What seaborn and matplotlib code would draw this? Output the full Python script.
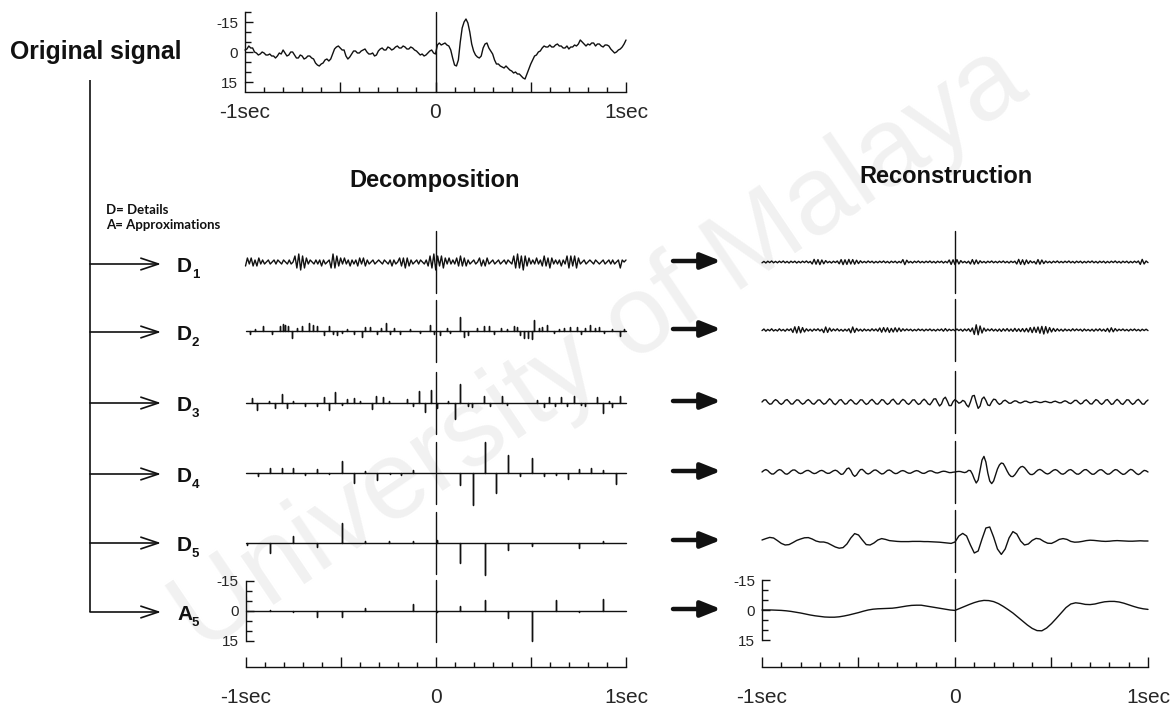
import numpy as np
import matplotlib
matplotlib.use("Agg")
import matplotlib.pyplot as plt
import seaborn as sns
from matplotlib.ticker import FixedLocator

sns.set_style("white")
plt.rcParams["font.family"] = ["Liberation Sans", "DejaVu Sans"]

# ---------------- data (amplitude units, positive = downward, EEG convention) -------------
orig_vals = [-1, -1.5, -3, -2, -2, 0, 0.5, 1.5, 1, 0, 0.5, 1.5, 1.5, 1, 2, 2, 3, 2, 0.5, 1,
             -1, 0.5, 2, 1.5, 0, 0, 1.5, 3, 3, 1.5, 2, 3.5, 3, 2, 2, 3, 3.5, 5.5, 6.5, 7,
             6, 5.5, 4, 3.5, 4.5, 3.5, 1, -1.5, -2.5, -3, -2, -1, -1, 2, 3.5, 2.5, 1, -0.5, -0.5, 0.5,
             0.5, -0.5, -1, -1.5, 0, 1, 1, 0.5, 2, 1.5, -0.5, -1.5, -2, -1, -1, -2.5, -2, -1, -1.5, -2.5,
             -3, -2, -2, -3, -2.5, -1.5, -1.5, -2.5, -2, -1, -0.5, 0.5, 1.5, 1, 2, 1.5, 0.5, -0.5, -1, 0.5,
             1, -3.5, -4.5, -3.5, -4, -4.5, -3.5, -3, -1, 3, 6.5, 7, 4, -5, -12, -15, -16.5, -14.5, -10, -4,
             -0.5, 1.5, 2.5, 3, 2, -2, -4, -4.5, -2, -0.5, 1, 4, 6, 6, 7, 7.5, 8, 7, 8, 9,
             9.5, 10.5, 10, 11, 11, 12, 13, 13.5, 11, 8.5, 6, 4, 2, 1.5, 0, -0.5, -2, -3, -2.5, -2.5,
             -3.5, -2.5, -2.5, -3.5, -4, -3, -3, -2, -2, -3, -1.5, -2.5, -2.5, -3.5, -3, -4, -6, -5, -4, -3,
             -4, -3.5, -4.5, -4.5, -3, -4, -4, -3, -2.5, -3.5, -3.5, -3, -1.5, -0.5, 0.5, 0, -1, -1.5, -2.5, -4,
             -6]

dec_d1 = [2, -2, 1, -2, 2, -1, 2, -2, 1, -1, 1,
          0, -1, 1, 0, -1, 1, -1, 0, 1, -1, 0, 1, -1, 1, 0,
          -3, 3, -4, 4, -3, 3, -2,
          1, -1, 0, 1, -1, 1, -1, 2, -1, 1, 0, -1,
          3, -4, 3, -3, 2, -2,
          1, -2, 1, -1, 2, -1, 1, -1,
          2, -2, 1, -2, 2, -1, 1,
          0, -1, 1, 0, -1, 0, 1, -1, 0, 1,
          -1, 2, -1, 1, 0,
          -2, 2, -2, 3, -2, 2, -1, 1,
          0, -1, 1, -1, 0, 1, -1,
          2, -3, 3, -4, 4, -3, 2, -3, 3, -2,
          1, -2, 1, -1, 1,
          -2, 2, -3, 2, -2, 2, -1, 1,
          0, -1, 1, 0,
          -2, 2, -1, 2, -2, 1,
          0, -1, 1, 0, -1, 1, 0, -1, 1, -1, 0, 1,
          -3, 3, -4, 3, -3, 4, -3, 2, -2, 1,
          -1, 1, -2, 1, -1,
          2, -3, 2, -2, 3, -2, 1,
          -1, 1, -1, 2, -1, 1,
          -3, 3, -3, 2, -3, 3, -2, 1,
          0, -1, 1, 0, -1, 0, 1, -1, 0, 1, 0, -1, 1, 0,
          -1, 1, -1, 1, 0, -1,
          3,
          -1, 0, -1]

d2_t = [-0.976, -0.950, -0.906, -0.862, -0.818, -0.804, -0.792, -0.775, -0.757, -0.731,
        -0.704, -0.664, -0.643, -0.622, -0.590, -0.559, -0.538, -0.520, -0.494, -0.468,
        -0.429, -0.389, -0.371, -0.345, -0.310, -0.289, -0.264, -0.243, -0.222, -0.187,
        -0.134, -0.085, -0.029, -0.011, 0.020, 0.059, 0.076, 0.129, 0.146, 0.167,
        0.217, 0.255, 0.278, 0.304, 0.343, 0.375, 0.410, 0.427, 0.445, 0.462,
        0.485, 0.506, 0.518, 0.541, 0.559, 0.585, 0.620, 0.647, 0.673, 0.708,
        0.743, 0.761, 0.787, 0.813, 0.839, 0.857, 0.883, 0.927, 0.971, 0.989]
d2_a = [1.5, -1, -2.5, 1.5, -2.5, -3.5, -3, -2.5, 3.5, -1.5,
        -2.5, -4, -3, -2.5, 2, -2.5, 1.5, 2, 1, -1,
        1.5, 3, -2, -2, 1.5, -1.5, -4, 1.5, -1.5, 1.5,
        -1, 1, -3, 1.5, 2, -1.5, 1, -7, 3, 2,
        -1.5, -2.5, -2.5, 1.5, -1.5, -1, -2.5, -2, 2, 3.5,
        3.5, 4, -5.5, -1.5, -2, -3, 1, -1, -1.5, -2,
        -2, 1.5, -1.5, -3, -1.5, -2, 1, -1, 2.5, -1]

d3_t = [-0.968, -0.938, -0.875, -0.845, -0.810, -0.780, -0.748, -0.687, -0.622, -0.590,
        -0.559, -0.527, -0.494, -0.464, -0.432, -0.397, -0.336, -0.313, -0.278, -0.248,
        -0.152, -0.122, -0.087, -0.059, -0.025, 0.006, 0.062, 0.099, 0.129, 0.167,
        0.190, 0.255, 0.287, 0.348, 0.375, 0.532, 0.567, 0.597, 0.627, 0.659,
        0.689, 0.725, 0.761, 0.787, 0.848, 0.880, 0.910, 0.927, 0.971]
d3_a = [-2.5, 3.5, -1, 2.5, -4.5, 2.5, -1, 1.5, 1.5, -3,
        3.5, -5.5, 1, -2, -2.5, -1, 3, -3.5, -3, -1,
        -2, 1.5, -6, 4.5, -6.5, 2.5, -1, 8, -9.5, 1.5,
        2, -3.5, 1.5, -3.5, 1, -1.5, 2, -3, 1.5, -3,
        1.5, -3.5, 1, 1.5, -3, 5, -1, 2, -3.5]

d4_t = [-0.936, -0.871, -0.810, -0.748, -0.687, -0.622, -0.559, -0.494, -0.432, -0.371,
        -0.310, -0.243, -0.183, -0.120, 0.129, 0.194, 0.257, 0.318, 0.380, 0.445,
        0.506, 0.567, 0.632, 0.694, 0.755, 0.818, 0.880, 0.945]
d4_a = [1.5, -2.5, -2.5, -2.5, 1, -2, 0.7, -6, 5, -1,
        3.5, 0.5, 1, -1.5, 6, 16, -15.5, 10, -9, 1.5,
        -7.5, 1.5, 1, 3, -2, -2.5, -1.5, 5.5]

d5_t = [-0.994, -0.871, -0.748, -0.622, -0.494, -0.371, -0.245, -0.120, 0.006, 0.129,
        0.257, 0.380, 0.506, 0.755, 0.880]
d5_a = [1, 5, -3.5, 2, -10, -1, -1, -1, -1.5, 10,
        16, 3.5, 1.5, 2.5, -0.8]

a5_t = [-0.871, -0.748, -0.622, -0.494, -0.371, -0.120, 0.006, 0.129, 0.257, 0.380,
        0.506, 0.632, 0.755, 0.880]
a5_a = [-0.3, 0.5, 3, 3, -1.5, -3.5, 0.5, -2.5, -5.5, 3.5,
        15, -5.5, 0.3, -6]

rec_d1 = [0.4, -0.3, 0.5, -0.4, 0.3, -0.5, 0.4, -0.3, 0.4, -0.4, 0.3, -0.5, 0.4, -0.3, 0.5, -0.4,
          0.3, -0.4, 0.5, -0.3, 0.4, -0.4, 0.3, -0.5, 0.4, -0.3,
          1.0, -1.3, 1.1, -1.2, 1.3, -1.0, 0.9, -0.7,
          0.4, -0.3, 0.5, -0.4, 0.3, -0.5,
          0.9, -1.2, 1.3, -1.1, 1.2, -1.3, 1.0, -1.2, 1.1, -0.9, 0.8, -0.6,
          0.4, -0.3, 0.4, -0.5, 0.3, -0.4, 0.5, -0.3, 0.4, -0.4, 0.3, -0.5, 0.4, -0.3, 0.5, -0.4,
          0.3, -0.4, 0.5, -0.3, 0.4,
          -1.2, 1.3, -0.9,
          0.4, -0.3, 0.5, -0.4, 0.3, -0.5, 0.4, -0.3, 0.4, -0.4, 0.3, -0.5, 0.4, -0.3, 0.5, -0.4,
          0.3, -0.4, 0.5, -0.3, 0.4,
          -1.0, 1.2, -1.1, 1.3, -1.2, 1.0, -0.7,
          0.4, -0.3, 0.5, -0.4,
          1.0, -1.2, 1.1, -1.0, 0.9, -0.6,
          0.4, -0.3, 0.5, -0.4, 0.3, -0.5, 0.4, -0.3, 0.4, -0.4, 0.3, -0.5, 0.4, -0.3, 0.5, -0.4,
          0.3, -0.4,
          1.0, -1.3, 1.2, -1.1, 1.3, -1.0, 0.8, -0.6,
          0.4, -0.3,
          1.0, -1.2, 1.1, -1.0, 0.8, -0.5,
          0.4, -0.3, 0.5, -0.4, 0.3, -0.5, 0.4, -0.3, 0.4, -0.4, 0.3, -0.5, 0.4, -0.3, 0.5, -0.4,
          0.3, -0.4, 0.5, -0.3, 0.4, -0.4, 0.3, -0.5, 0.4, -0.3, 0.5, -0.4, 0.3, -0.4, 0.5, -0.3,
          0.4, -0.4, 0.3, -0.5, 0.4, -0.3, 0.5, -0.4, 0.3, -0.4, 0.5, -0.3, 0.4, -0.4, 0.3, -0.5,
          1.2, -1.3, 1.0, -0.5, 0.3]

rec_d2 = [0.3, -0.5, 0.6, -0.3, 0.4, -0.6, 0.5, -0.2, 0.5, -0.6, 0.4, -0.3, 0.6, -0.5, 0.3, -0.6,
          1.2, -1.6, 1.5, -1.7, 1.4, -1.2, 1.0, -0.6,
          0.5, -0.4, 0.6, -0.5, 0.3, -0.6, 0.5, -0.4,
          1.3, -1.5, 1.2, -1.0, 0.6,
          -0.5, 0.4, -0.6, 0.5, -0.3, 0.6, -0.4, 0.5, -0.6,
          1.4, -1.5, 1.2, -0.8,
          0.5, -0.4, 0.6, -0.5, 0.4, -0.3, 0.5, -0.6, 0.4, -0.5, 0.6,
          -1.0, 1.1, -1.2, 0.9, -1.1, 1.2, -0.8, 1.0, -1.1, 0.9, -1.0, 0.7, -0.6,
          0.4, -0.5, 0.3, -0.4, 0.5, -0.3, 0.4, -0.5, 0.3, -0.4, 0.5, -0.4, 0.3, -0.5, 0.4, -0.3,
          0.5, -0.4, 0.3, -0.5, 0.6, -0.7, 0.5, -0.4, 0.3, -0.3,
          0.4, -0.5, 0.3, -0.4, 0.6, -0.5, 0.4, -0.6, 0.8, -1.0,
          2.2, -2.6, 2.4, -2.0, 1.5, -1.0,
          0.6, -0.5, 0.4, -0.6, 0.5, -0.4, 0.6, -0.5, 0.7, -0.6, 0.5, -0.7, 0.6, -0.5, 0.7, -0.8,
          0.7, -0.6, 0.8, -0.7, 0.9, -0.8, 1.0,
          -1.2, 1.3, -1.4, 1.2, -1.5, 1.6, -1.8, 2.0, -1.7, 1.5, -1.2, 1.0, -0.8, 0.7, -0.6,
          0.5, -0.4, 0.6, -0.5, 0.4, -0.3, 0.5, -0.6, 0.4, -0.5, 0.3, -0.4, 0.6, -0.5, 0.4, -0.3,
          0.5, -0.4, 0.6, -0.5, 0.4, -0.6, 0.5, -0.4, 0.7, -0.8,
          1.0, -1.1, 0.9, -0.7,
          0.5, -0.4, 0.3, -0.5, 0.4, -0.3, 0.5, -0.4, 0.3, -0.5, 0.4, -0.3, 0.5, -0.4, 0.3, -0.4, 0.3]

rec_d3 = [0, -1.0, -1.1, 0.2, 1.1, 0.9, -0.4, -1.2, -0.6, 0.6,
          1.2, 0.5, -0.8, -1.2, -0.2, 1.0, 1.0, -0.2, -1.1, -0.9,
          0.3, 1.1, 0.6, -0.6, -1.2, -0.4, 0.8, 1.1, 0.1, -1.0,
          -1.0, 0.2, 1.1, 0.7, -0.5, -1.6, -0.8, 0.7, 1.3, 0.4,
          -0.9, -1.2, 0, 1.1, 0.8, -0.5, -1.2, -0.4, 0.8, 1.1,
          0.1, -1.1, -1.0, 0.3, 1.2, 0.7, -0.6, -1.3, -0.3, 0.9,
          1.1, 0, -1.2, -0.9, 0.4, 1.2, 0.6, -0.8, -1.4, -0.2,
          1.0, 1.0, -0.4, -1.3, -0.7, 0.6, 1.2, 0.3, -1.0, -1.1,
          0.2, 1.2, 0.8, -0.6, -1.4, -0.5, 0.9, 1.4, 0.1, -1.5,
          -1.6, 0.3, 2.0, 1.0, -1.5, -2.4, -0.5, 1.8, 1.8, -0.2,
          -1.2, -0.4, 0.6, 0.2, -0.8, -0.3, 1.5, 2.5, 0, -3.0,
          -3.3, 0.2, 3.2, 2.0, -1.5, -2.5, -0.8, 1.5, 1.8, 0,
          -1.4, -1.2, 0.3, 1.2, 0.7, -0.5, -0.9, -0.2, 0.6, 0.6,
          -0.1, -0.6, -0.4, 0.3, 0.5, 0.1, -0.4, -0.4, 0.1, 0.4,
          0.2, -0.2, -0.3, 0, 0.3, 0.2, -0.2, -0.3, 0, 0.3,
          0.3, -0.2, -0.4, 0, 0.4, 0.4, -0.2, -0.6, -0.2, 0.5,
          0.8, 0.1, -0.8, -0.8, 0.2, 1.0, 0.6, -0.6, -1.1, -0.2,
          0.9, 1.0, -0.2, -1.2, -0.7, 0.5, 1.2, 0.4, -0.9, -1.2,
          0, 1.2, 0.9, -0.5, -1.3, -0.5, 0.8, 1.2, 0.1, -1.1,
          -1.0, 0.3, 1.2, 0.6, -0.7, -1.3, -0.3, 1.0, 1.1, -0.2,
          -1.0]

rec_d4 = [0, -0.8, -1.2, -0.7, 0.3, 1.0, 1.0,
          0.2, -0.7, -1.2, -0.9, 0, 0.9, 1.1,
          0.5, -0.4, -1.0, -1.0, -0.3, 0.5, 0.8,
          0.5, -0.2, -0.7, -0.8, -0.3, 0.4,
          0.8, 0.6, 0, -0.6, -0.8, -0.4, 0.3,
          0.7, 0.6, 0, -0.6, -0.9, -0.5, 0.4,
          1.2, 1.0, -0.2, -1.6, -2.0, -0.8, 1.2,
          2.2, 1.5, 0, -1.2, -1.3, -0.4,
          0.6, 1.0, 0.6, -0.2, -0.9, -1.0, -0.4,
          0.4, 1.0, 0.8, 0, -0.8, -1.0, -0.5,
          0.3, 0.8, 0.7, 0.1, -0.5, -0.7, -0.4,
          0.2, 0.6, 0.6, 0.1, -0.4, -0.7, -0.5,
          0.1, 0.6, 0.7, 0.3, -0.3, -0.6, -0.5,
          0, 0.4, 0.5, 0.2, -0.2, -0.4, -0.3,
          0, 0.3, 0.3, 0.1, 0,
          -0.2, -0.3, -0.2, 0.1, 0.3, 0, -0.8, -0.7, 1.0, 3.5,
          5.5, 4.0, -1.0, -6.0, -7.8, -5.0, 0.5, 4.5, 5.8, 4.5,
          1.5, -1.5, -3.5, -4.5, -4.2, -2.5, -0.5, 1.2, 2.2, 2.3,
          1.4, 0, -1.5, -2.5, -2.8, -2.2, -1.0, 0.3, 1.2, 1.3,
          0.8, -0.2, -1.0, -1.3, -0.8, 0, 0.7, 1.0, 0.6, -0.2,
          -0.9, -1.2, -0.8, 0.1, 0.9, 1.1, 0.6, -0.3, -1.0, -1.2,
          -0.6, 0.3, 1.0, 1.1, 0.5, -0.4, -1.1, -1.2, -0.5, 0.4,
          1.1, 1.1, 0.4, -0.5, -1.1, -1.1, -0.4, 0.5, 1.1, 1.0,
          0.3, -0.6, -1.2, -1.0, -0.2, 0.6, 1.2, 1.0, 0.2, -0.7,
          -1.3, -1.0, -0.1, 0.8, 1.3, 0.8, -0.1, -0.8, -0.6, 0]

rec_d5 = [-0.5, -1.2, -1.8, -1.5, -0.2, 1.2, 2.0, 1.8, 0.8, -0.3,
          -1.0, -1.6, -1.7, -1.0, 0, 0.5, 0.5, 1.0, 2.0, 3.0,
          3.6, 3.3, 1.5, -1.5, -3.7, -3.0, -0.5, 1.8, 2.0, 1.0,
          -0.5, -1.2, -0.8, -0.2, 0, 0.2, 0.3, 0.3, 0.3, 0.2,
          0.2, 0.2, 0.3, 0.3, 0.4, 0.5, 0.6, 0.8, 1.0, 1.2,
          0.5, -2.5, -3.8, -2.5, 2.0, 6.0, 5.0, -1.0, -6.5, -7.0,
          -2.0, 4.0, 6.7, 4.0, -1.5, -4.7, -3.5, 0, 2.0, 1.5,
          -0.3, -1.3, -1.0, 0.2, 1.1, 1.2, 0.3, -0.8, -1.2, -0.8,
          0.2, 0.6, 0.5, 0.2, -0.2, -0.4, -0.3, -0.1, 0.1, 0.2,
          0.1, -0.1, -0.2, -0.1, 0, 0.1, 0.1, 0, -0.1, 0, 0]

rec_a5 = [0, 0, 0, 0.1, 0.2, 0.4, 0.7, 1.1, 1.5, 2.0,
          2.5, 2.9, 3.2, 3.5, 3.6, 3.6, 3.4, 3.0, 2.5, 1.9,
          1.3, 0.6, 0, -0.4, -0.6, -0.7, -0.8, -0.9, -1.2, -1.6,
          -2.0, -2.3, -2.4, -2.4, -2.0, -1.6, -1.2, -0.8, -0.4, 0,
          0.2, -0.8, -1.8, -2.8, -3.7, -4.4, -4.8, -4.7, -4.2, -3.2,
          -1.8, -0.2, 1.5, 3.5, 5.5, 7.5, 9.2, 10.3, 10.4, 9.0,
          6.8, 4.2, 1.5, -1.2, -3.0, -3.6, -3.3, -2.8, -2.7, -3.0,
          -3.6, -4.1, -4.3, -4.3, -4.0, -3.4, -2.6, -1.8, -1.1, -0.6, -0.3]

row_names = ["D", "D", "D", "D", "D", "A"]
row_subs = ["1", "2", "3", "4", "5", "5"]
x_labels = ["-1sec", "", "0", "", "1sec"]
x_major = [-1, -0.5, 0, 0.5, 1]
x_minor = [-0.9, -0.8, -0.7, -0.6, -0.4, -0.3, -0.2, -0.1, 0.1, 0.2, 0.3, 0.4, 0.6, 0.7, 0.8, 0.9]

# ---------------- layout (pixels) ----------------
W, H = 1174, 706
INK = "#111111"
LW = 1.0
DEC_X = (245.5, 626)
REC_X = (762, 1148)
DEC_BASE = [262, 331, 403, 473, 543, 611]
REC_BASE = [262, 330, 402, 472, 541, 610]
TREE_Y = [264, 332, 403, 474, 543, 612]

fig = plt.figure(figsize=(W / 100, H / 100), dpi=100)
fig.patch.set_facecolor("white")

# faint watermark
fig.text(600 / W, 1 - 350 / H, "University of Malaya", rotation=34, rotation_mode="anchor",
         ha="center", va="center", fontsize=80, color="#f1f1f1", zorder=-5)


def add_ax(x0, x1, ytop, ybot):
    ax = fig.add_axes([x0 / W, 1 - ybot / H, (x1 - x0) / W, (ybot - ytop) / H])
    ax.patch.set_visible(False)
    for s in ax.spines.values():
        s.set_visible(False)
    ax.set_xticks([])
    ax.set_yticks([])
    ax.set_xlim(-1, 1)
    return ax


def draw(ax, t, v):
    sns.lineplot(x=t, y=v, ax=ax, color=INK, linewidth=LW, estimator=None, sort=False,
                 legend=False)
    for ln in ax.lines:
        ln.set_clip_on(False)


def spike_trace(times, amps):
    tt, vv = [-1.0], [0.0]
    for t, a in zip(times, amps):
        tt += [t, t, t]
        vv += [0.0, a, 0.0]
    tt.append(1.0)
    vv.append(0.0)
    return np.array(tt), np.array(vv)


def bracket(ax, lo, hi, minors):
    sp = ax.spines["left"]
    sp.set_visible(True)
    sp.set_bounds(lo, hi)
    sp.set_linewidth(1.0)
    sp.set_color(INK)
    ax.yaxis.set_major_locator(FixedLocator([-15, 0, 15]))
    ax.set_yticklabels(["-15", "0", "15"])
    ax.yaxis.set_minor_locator(FixedLocator(minors))
    ax.tick_params(axis="y", which="both", direction="in", left=True, width=1.0,
                   color=INK, labelsize=11, pad=5)
    ax.tick_params(axis="y", which="major", length=6)
    ax.tick_params(axis="y", which="minor", length=4.5)


def time_axis(ax, pad):
    sp = ax.spines["bottom"]
    sp.set_visible(True)
    sp.set_linewidth(1.0)
    sp.set_color(INK)
    ax.xaxis.set_major_locator(FixedLocator(x_major))
    ax.set_xticklabels(x_labels)
    ax.xaxis.set_minor_locator(FixedLocator(x_minor))
    ax.tick_params(axis="x", which="both", direction="in", bottom=True, width=1.0,
                   color=INK, labelsize=15, pad=pad)
    ax.tick_params(axis="x", which="major", length=7.5)
    ax.tick_params(axis="x", which="minor", length=3.5)


# ---------------- original signal ----------------
ax0 = add_ax(DEC_X[0] - 0.5, DEC_X[1], 12, 92)
ax0.set_ylim(20, -20)
ax0.axvline(0, color=INK, lw=LW)
draw(ax0, np.linspace(-1, 1, len(orig_vals)), np.array(orig_vals, float))
bracket(ax0, -20, 15, [-20, -10, -5, 5, 10])
time_axis(ax0, 8)

# ---------------- decomposition ----------------
dec_series = [
    (np.linspace(-1, 1, len(dec_d1)), np.array(dec_d1, float)),
    spike_trace(d2_t, d2_a),
    spike_trace(d3_t, d3_a),
    spike_trace(d4_t, d4_a),
    spike_trace(d5_t, d5_a),
    spike_trace(a5_t, a5_a),
]
for i, (b, (t, v)) in enumerate(zip(DEC_BASE, dec_series)):
    ax = add_ax(DEC_X[0], DEC_X[1], b - 31, b + 31)
    ax.set_ylim(15.5, -15.5)
    ax.axvline(0, color=INK, lw=LW)
    draw(ax, t, v)
    if i == 5:
        bracket(ax, -15, 15, [-10, -5, 5, 10])
axd = add_ax(DEC_X[0], DEC_X[1], 647, 667)
time_axis(axd, 15)

# ---------------- reconstruction ----------------
rec_series = [rec_d1, rec_d2, rec_d3, rec_d4, rec_d5, rec_a5]
for i, (b, vals) in enumerate(zip(REC_BASE, rec_series)):
    ax = add_ax(REC_X[0], REC_X[1], b - 31, b + 31)
    ax.set_ylim(15.5, -15.5)
    ax.axvline(0, color=INK, lw=LW)
    draw(ax, np.linspace(-1, 1, len(vals)), np.array(vals, float))
    if i == 5:
        bracket(ax, -15, 15, [-10, -5, 5, 10])
axr = add_ax(REC_X[0], REC_X[1], 647, 667)
time_axis(axr, 15)

# ---------------- annotation layer ----------------
ov = fig.add_axes([0, 0, 1, 1])
ov.set_xlim(0, W)
ov.set_ylim(H, 0)
ov.axis("off")
ov.patch.set_visible(False)

ov.plot([90, 90], [80, TREE_Y[-1]], color=INK, lw=1.2, solid_capstyle="butt")
for y in TREE_Y:
    ov.annotate("", xy=(161, y), xytext=(90, y),
                arrowprops=dict(arrowstyle="->,head_length=0.9,head_width=0.3",
                                mutation_scale=14, lw=1.2, color=INK, shrinkA=0, shrinkB=0))
for y in REC_BASE:
    ov.annotate("", xy=(721, y - 1), xytext=(673, y - 1),
                arrowprops=dict(arrowstyle="-|>,head_length=0.75,head_width=0.3",
                                mutation_scale=16, lw=3.2, color=INK, shrinkA=0, shrinkB=0))

for name, sub, y in zip(row_names, row_subs, TREE_Y):
    ov.text(177, y + 8, name, fontsize=15, fontweight="bold", color=INK, ha="left", va="baseline")
    ov.text(192, y + 14, sub, fontsize=9.5, fontweight="bold", color=INK, ha="left", va="baseline")

ov.text(10, 59, "Original signal", fontsize=17.8, fontweight="bold", color=INK,
        ha="left", va="baseline")
ov.text(435, 187, "Decomposition", fontsize=17, fontweight="bold", color=INK,
        ha="center", va="baseline")
ov.text(946, 183, "Reconstruction", fontsize=17, fontweight="bold", color=INK,
        ha="center", va="baseline")
ov.text(106, 214, "D= Details", fontsize=9.5, fontweight="bold", color=INK,
        ha="left", va="baseline", family=["Lato", "DejaVu Sans"])
ov.text(106, 229, "A= Approximations", fontsize=9.5, fontweight="bold", color=INK,
        ha="left", va="baseline", family=["Lato", "DejaVu Sans"])

fig.savefig("out.png", dpi=100, facecolor="white")
